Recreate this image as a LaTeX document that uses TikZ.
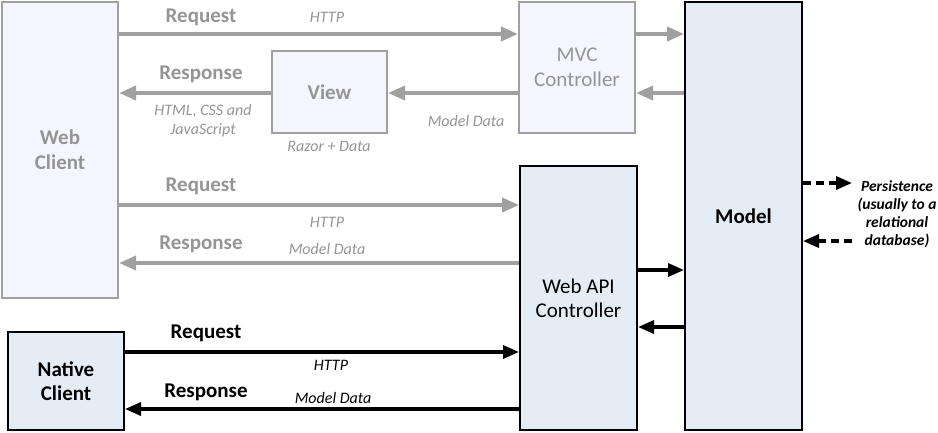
\documentclass[tikz,border=0pt]{standalone}
\usepackage{fontspec}
\setmainfont{Carlito}
\usetikzlibrary{arrows.meta}

\definecolor{linegray}{HTML}{A0A0A0}
\definecolor{textgray}{HTML}{959595}
\definecolor{lavender}{HTML}{F5F6FD}
\definecolor{paleblue}{HTML}{E4ECF6}

\tikzstyle{greybox} = [draw=linegray, fill=lavender, line width=2.2pt, rectangle, text=textgray, align=center, inner sep=0pt, font=\fontsize{21}{25}\selectfont]
\tikzstyle{bluebox} = [draw=black, fill=paleblue, line width=2pt, rectangle, text=black, align=center, inner sep=0pt, font=\fontsize{21}{24}\selectfont]
\tikzstyle{greyarrow} = [draw=linegray, line width=3.8pt, -{Triangle[length=17pt,width=14pt]}, linegray]
\tikzstyle{blackarrow} = [draw=black, line width=3.4pt, -{Triangle[length=16pt,width=13pt]}]
\tikzstyle{dasharrow} = [blackarrow, dash pattern=on 8pt off 5pt]
\tikzstyle{biglabel} = [inner sep=0pt, font=\bfseries\fontsize{21}{24}\selectfont]
\tikzstyle{smalllabel} = [inner sep=0pt, align=center, font=\itshape\fontsize{16}{19}\selectfont]

\begin{document}
\begin{tikzpicture}[x=1pt, y=-1pt]
\useasboundingbox (0,0) rectangle (938,432);

% boxes
\node [greybox, minimum width=116pt, minimum height=296pt] (web) at (60,150) {\bfseries Web\\\bfseries Client};
\node [greybox, minimum width=115pt, minimum height=82pt] (view) at (329.5,92) {\bfseries View};
\node [greybox, minimum width=116pt, minimum height=131pt] (mvc) at (577,67.5) {MVC\\Controller};
\node [bluebox, minimum width=117pt, minimum height=264pt] (api) at (578.5,298) {Web API\\Controller};
\node [bluebox, minimum width=117pt, minimum height=428pt] (model) at (743.5,216) {\bfseries Model};
\node [bluebox, minimum width=116pt, minimum height=98pt] (native) at (66,381) {\bfseries Native\\\bfseries Client};

% levels of the connectors
\coordinate (y1) at (0,34);
\coordinate (y2) at (0,93);
\coordinate (y3) at (0,205);
\coordinate (y4) at (0,263);
\coordinate (y5) at (0,270);
\coordinate (y6) at (0,327);
\coordinate (y7) at (0,352);
\coordinate (y8) at (0,409);
\coordinate (y9) at (0,183);
\coordinate (y10) at (0,241);
\coordinate (db) at (852,0);

% web client via MVC
\draw [greyarrow] (web.east |- y1) -- (mvc.west |- y1);
\draw [greyarrow] (mvc.east |- y1) -- (model.west |- y1);
\draw [greyarrow] (model.west |- y2) -- (mvc.east |- y2);
\draw [greyarrow] (mvc.west |- y2) -- (view.east |- y2);
\draw [greyarrow] (view.west |- y2) -- (web.east |- y2);

% web client via Web API
\draw [greyarrow] (web.east |- y3) -- (api.west |- y3);
\draw [greyarrow] (api.west |- y4) -- (web.east |- y4);
\draw [blackarrow] (api.east |- y5) -- (model.west |- y5);
\draw [blackarrow] (model.west |- y6) -- (api.east |- y6);

% native client
\draw [blackarrow] (native.east |- y7) -- (api.west |- y7);
\draw [blackarrow] (api.west |- y8) -- (native.east |- y8);

% persistence
\draw [dasharrow] (model.east |- y9) -- (db |- y9);
\draw [dasharrow] (db |- y10) -- (model.east |- y10);

% labels
\node [biglabel, text=textgray] (req1) at (201,17) {Request};
\node [smalllabel, text=textgray] (http1) at (327,17) {HTTP};
\node [biglabel, text=textgray] (resp1) at (201,74) {Response};
\node [smalllabel, text=textgray] (html) at (203,121) {HTML, CSS and\\JavaScript};
\node [smalllabel, text=textgray] (razor) at (329,146) {Razor + Data};
\node [smalllabel, text=textgray] (data1) at (466,121) {Model Data};
\node [biglabel, text=textgray] (req2) at (201,186) {Request};
\node [smalllabel, text=textgray] (http2) at (327,222) {HTTP};
\node [biglabel, text=textgray] (resp2) at (201,244) {Response};
\node [smalllabel, text=textgray] (data2) at (327,249) {Model Data};
\node [biglabel] (req3) at (206,333) {Request};
\node [smalllabel] (http3) at (331,365) {HTTP};
\node [biglabel] (resp3) at (206,392) {Response};
\node [smalllabel] (data3) at (333,398) {Model Data};
\node [smalllabel, font=\bfseries\itshape\fontsize{15.5}{18}\selectfont] (persist) at (897,214) {Persistence\\(usually to a\\relational\\database)};
\end{tikzpicture}
\end{document}
